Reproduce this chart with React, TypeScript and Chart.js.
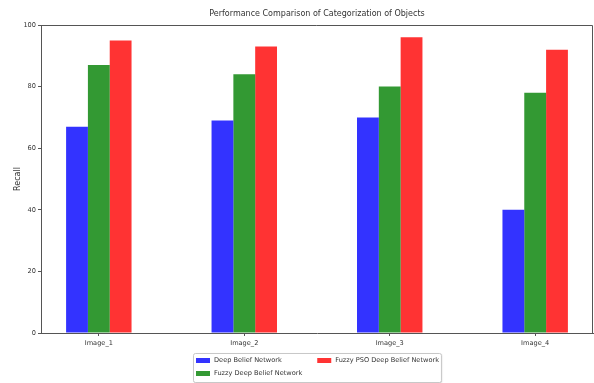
import { useEffect, useRef } from 'react';
import { Chart, registerables } from 'chart.js';

Chart.register(...registerables);

// Recall per image for each network
const categories = ['Image_1', 'Image_2', 'Image_3', 'Image_4'];
const seriesNames = ['Deep Belief Network', 'Fuzzy Deep Belief Network', 'Fuzzy PSO Deep Belief Network'];
const deepBelief = [67, 69, 70, 40];
const fuzzyDeepBelief = [87, 84, 80, 78];
const fuzzyPsoDeepBelief = [95, 93, 96, 92];
const yTicks = [0, 20, 40, 60, 80, 100];
const chartTitle = 'Performance Comparison of Categorization of Objects';
const yAxisLabel = 'Recall';

const seriesColors = ['rgba(0,0,255,0.8)', 'rgba(0,128,0,0.8)', 'rgba(255,0,0,0.8)'];
const FONT = '"DejaVu Sans", sans-serif';
const TEXT = '#333';
const AXIS = '#555';

const decorPlugin = {
  id: 'decor',
  afterDraw(chart: any) {
    const { ctx, chartArea } = chart;
    const { left, right, top, bottom } = chartArea;
    ctx.save();

    // top and right spines
    ctx.strokeStyle = AXIS;
    ctx.lineWidth = 1;
    ctx.beginPath();
    const t = Math.round(top) + 0.5;
    const r = Math.round(right) - 0.5;
    ctx.moveTo(left, t);
    ctx.lineTo(r, t);
    ctx.lineTo(r, bottom);
    ctx.stroke();

    // title
    const cx = (left + right) / 2;
    ctx.fillStyle = TEXT;
    ctx.font = `8px ${FONT}`;
    ctx.textAlign = 'center';
    ctx.textBaseline = 'middle';
    ctx.fillText(chartTitle, cx, 14);

    // y axis label
    ctx.save();
    ctx.translate(17.5, (top + bottom) / 2);
    ctx.rotate(-Math.PI / 2);
    ctx.fillText(yAxisLabel, 0, 0);
    ctx.restore();

    // legend: two rows, filled column by column
    const fs = 6.6;
    ctx.font = `${fs}px ${FONT}`;
    const sw = 14;
    const sh = 5;
    const textGap = 4;
    const colGap = 15;
    const pad = 2.5;
    const rowH = 13;
    const items = chart.data.datasets.map((d: any) => ({ label: d.label, color: d.backgroundColor }));
    const rows = 2;
    const cols: any[][] = [];
    items.forEach((it: any, i: number) => {
      const c = Math.floor(i / rows);
      (cols[c] = cols[c] || []).push(it);
    });
    const colWidths = cols.map((col) =>
      Math.max(...col.map((it: any) => sw + textGap + ctx.measureText(it.label).width))
    );
    const contentW = colWidths.reduce((a, b) => a + b, 0) + colGap * (cols.length - 1);
    const boxW = contentW + pad * 2;
    const boxH = 29;
    const bx = Math.round(cx - boxW / 2) + 0.5;
    const by = 353.5;

    ctx.save();
    ctx.shadowColor = 'rgba(0,0,0,0.25)';
    ctx.shadowBlur = 1.5;
    ctx.shadowOffsetX = 0.5;
    ctx.shadowOffsetY = 0.5;
    ctx.fillStyle = '#fff';
    ctx.beginPath();
    ctx.roundRect(bx, by, boxW, boxH, 2);
    ctx.fill();
    ctx.restore();
    ctx.strokeStyle = '#c8c8c8';
    ctx.beginPath();
    ctx.roundRect(bx, by, boxW, boxH, 2);
    ctx.stroke();

    ctx.textAlign = 'left';
    ctx.textBaseline = 'middle';
    let x = bx + pad;
    cols.forEach((col, ci) => {
      col.forEach((it: any, ri: number) => {
        const y = by + 7 + ri * rowH;
        ctx.fillStyle = it.color;
        ctx.fillRect(x, y - sh / 2, sw, sh);
        ctx.fillStyle = TEXT;
        ctx.fillText(it.label, x + sw + textGap, y);
      });
      x += colWidths[ci] + colGap;
    });

    ctx.restore();
  },
};

export default function App() {
  const canvasRef = useRef<HTMLCanvasElement | null>(null);

  useEffect(() => {
    const canvas = canvasRef.current;
    if (!canvas) return;
    const seriesValues = [deepBelief, fuzzyDeepBelief, fuzzyPsoDeepBelief];
    const chart = new Chart(canvas, {
      type: 'bar',
      data: {
        datasets: seriesValues.map((vals, s) => ({
          label: seriesNames[s],
          data: vals.map((v, i) => ({ x: i, y: v })),
          backgroundColor: seriesColors[s],
          borderWidth: 0,
          categoryPercentage: 0.45,
          barPercentage: 1,
        })),
      },
      options: {
        animation: false,
        responsive: false,
        devicePixelRatio: 1,
        layout: { padding: { top: 25, right: 1, left: 0, bottom: 0 } },
        plugins: {
          legend: { display: false },
          title: { display: false },
          tooltip: { enabled: false },
        },
        scales: {
          x: {
            type: 'linear',
            offset: false,
            min: -0.3975,
            max: 3.3975,
            afterBuildTicks: (scale: any) => {
              scale.ticks = categories.map((_, i) => ({ value: i }));
            },
            afterFit: (scale: any) => {
              scale.height = 50;
            },
            grid: { offset: false, drawOnChartArea: false, drawTicks: true, tickLength: 3, color: AXIS },
            border: { display: true, color: AXIS, width: 1 },
            ticks: {
              autoSkip: false,
              maxRotation: 0,
              padding: 3,
              color: TEXT,
              font: { family: FONT, size: 6.6 },
              callback: (v: any) => categories[v] ?? '',
            },
          },
          y: {
            min: 0,
            max: 100,
            afterBuildTicks: (scale: any) => {
              scale.ticks = yTicks.map((v) => ({ value: v }));
            },
            afterFit: (scale: any) => {
              scale.width = 41;
            },
            grid: { drawOnChartArea: false, drawTicks: true, tickLength: 3, color: AXIS },
            border: { display: true, color: AXIS, width: 1 },
            ticks: {
              padding: 2,
              color: TEXT,
              font: { family: FONT, size: 6.6 },
            },
          },
        },
      },
      plugins: [decorPlugin],
    });
    return () => chart.destroy();
  }, []);

  return (
    <div style={{ position: 'absolute', left: 0, top: 0, width: 594, height: 383, background: '#fff' }}>
      <canvas ref={canvasRef} width={594} height={383} style={{ display: 'block' }} />
    </div>
  );
}
